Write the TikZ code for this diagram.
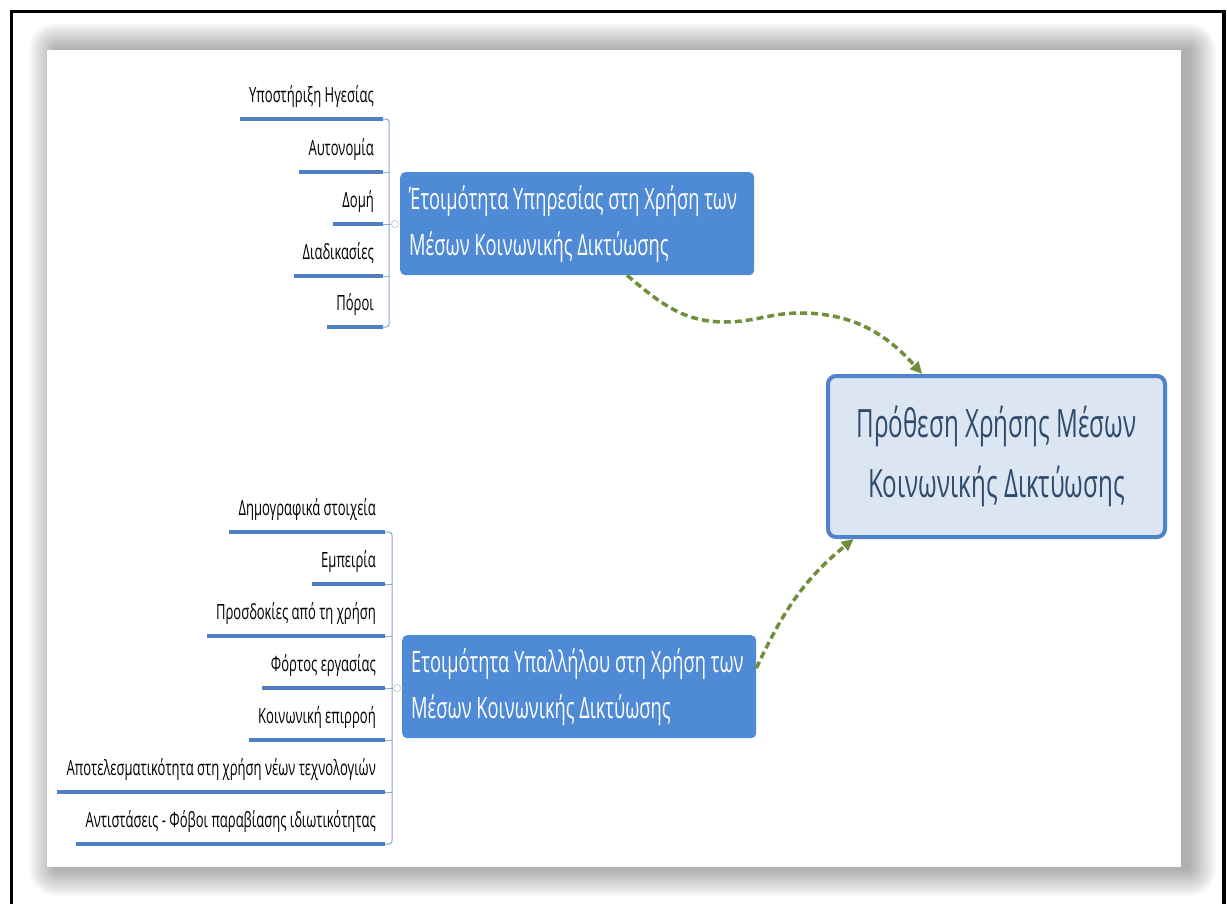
\documentclass[tikz,border=0pt]{standalone}
\usepackage{fontspec}
\setmainfont{Open Sans}[FakeStretch=0.62]
\usetikzlibrary{arrows.meta}
\definecolor{topicblue}{HTML}{4F8AD6}
\definecolor{lineblue}{HTML}{4F7FC1}
\definecolor{spineblue}{HTML}{8AA8D4}
\definecolor{mainfill}{HTML}{DCE6F2}
\definecolor{mainborder}{HTML}{4F84CC}
\definecolor{maintext}{HTML}{2E4B6E}
\definecolor{arrowgreen}{HTML}{6F8F3A}

\begin{document}
\begin{tikzpicture}[x=1pt,y=-1pt,
    item/.style={anchor=south east,inner xsep=9pt,inner ysep=7pt,text height=12pt,text depth=9pt,font=\fontsize{21}{24}\selectfont},
    uline/.style={lineblue,line width=4pt},
    spine/.style={spineblue,line width=1pt,rounded corners=3pt},
    hub/.style={circle,draw=gray!50,fill=white,line width=0.6pt,inner sep=0pt,minimum size=7pt},
    topic/.style={anchor=north west,fill=topicblue,text=white,rounded corners=5pt,align=flush left,inner xsep=9pt,
        text width=336pt,minimum height=103pt,font=\fontsize{29.5}{46}\selectfont},
    goal/.style={draw=mainborder,line width=4pt,fill=mainfill,text=maintext,rounded corners=8pt,align=center,
        minimum width=337pt,minimum height=161pt,font=\fontsize{39}{60}\selectfont},
    link/.style={arrowgreen,line width=3.5pt,dash pattern=on 7pt off 4pt,-{Triangle[length=12pt,width=11pt]}}]
    \useasboundingbox (0,0) rectangle (1227,903);
    \foreach \r in {1.5,3,...,27}
        \fill[black,opacity=0.02,rounded corners=\r] ({56-\r},{50-\r}) rectangle ({1189+\r},{869+\r});
    \fill[white] (47,50) rectangle (1181,867);
    \draw[line width=3.5pt] (11.5,906) -- (11.5,11.5) -- (1224,11.5) -- (1224,906);

    \node[topic] (ready1) at (400,172) {Έτοιμότητα Υπηρεσίας στη Χρήση των\\Μέσων Κοινωνικής Δικτύωσης};
    \node[topic] (ready2) at (402,635) {Ετοιμότητα Υπαλλήλου στη Χρήση των\\Μέσων Κοινωνικής Δικτύωσης};
    \node[goal] (intent) at (996.5,456.5) {Πρόθεση Χρήσης Μέσων\\Κοινωνικής Δικτύωσης};

    \node[item] (ha) at (383,119) {Υποστήριξη Ηγεσίας};
    \node[item] (hb) at (383,172) {Αυτονομία};
    \node[item] (hc) at (383,224) {Δομή};
    \node[item] (hd) at (383,276) {Διαδικασίες};
    \node[item] (he) at (383,327) {Πόροι};
    \node[item] (ea) at (385,532) {Δημογραφικά στοιχεία};
    \node[item] (eb) at (385,584) {Εμπειρία};
    \node[item] (ec) at (385,636) {Προσδοκίες από τη χρήση};
    \node[item] (ed) at (385,688) {Φόρτος εργασίας};
    \node[item] (ee) at (385,740) {Κοινωνική επιρροή};
    \node[item] (ef) at (385,792) {Αποτελεσματικότητα στη χρήση νέων τεχνολογιών};
    \node[item] (eg) at (385,844) {Αντιστάσεις - Φόβοι παραβίασης ιδιωτικότητας};
    \foreach \n in {ha,hb,hc,hd,he,ea,eb,ec,ed,ee,ef,eg}
        \draw[uline] (\n.south west) -- (\n.south east);

    \draw[spine] (ha.south east) -- ++(6,0) |- (he.south east);
    \foreach \n in {hb,hc,hd}
        \draw[spine] (\n.south east) -- ++(6,0);
    \node[hub] (hubA) at (395,224) {};
    \draw[spine] (hc.south east) ++(6,0) -- (hubA);

    \draw[spine] (ea.south east) -- ++(7,0) |- (eg.south east);
    \foreach \n in {eb,ec,ed,ee,ef}
        \draw[spine] (\n.south east) -- ++(7,0);
    \node[hub] (hubB) at (397,688) {};
    \draw[spine] (ed.south east) ++(7,0) -- (hubB);

    \draw[link] (ready1.-46.7) to[out=-40,in=180] (725,322) to[out=0,in=180] (800,313) to[out=0,in=132] (intent.132.8);
    \draw[link] (ready2.6) to[out=65,in=-141] (intent.-150.3);
\end{tikzpicture}
\end{document}
